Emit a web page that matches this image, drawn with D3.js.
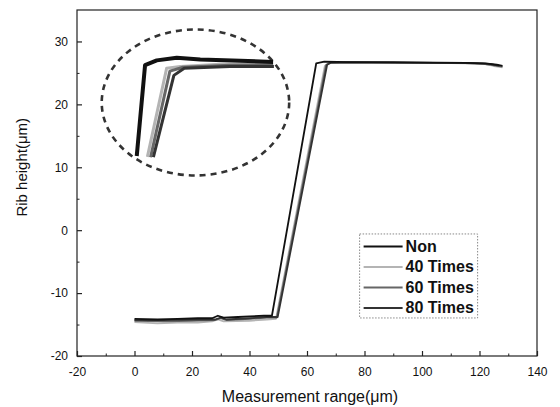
<!DOCTYPE html>
<html>
<head>
<meta charset="utf-8">
<script src="https://cdn.jsdelivr.net/npm/d3@7"></script>
<style>
  body { margin: 0; background: #fff; }
  text { font-family: "Liberation Sans", Arial, sans-serif; fill: #111; }
</style>
</head>
<body>
<div id="chart"></div>
<script>
// series names + colours
var seriesNames = ["Non", "40 Times", "60 Times", "80 Times"];
var seriesColors = ["#111", "#b4b4b4", "#666", "#333"];

// profile data [x (um), height (um)]
var nonData = [[0,-14.1],[8,-14.2],[15,-14.1],[22,-14.0],[27,-14.0],[29,-13.6],[31,-13.9],[36,-13.8],[40,-13.7],[45,-13.6],[47.8,-13.6],[63.2,26.5],[66,26.8],[75,26.7],[90,26.7],[105,26.65],[115,26.6],[122,26.5],[126,26.3],[128,26.1]];
var t40Data = [[0,-14.6],[8,-14.8],[15,-14.7],[22,-14.7],[27,-14.5],[29,-14.2],[31,-14.5],[40,-14.4],[46,-14.2],[49.2,-14.1],[66.2,26.1],[67.5,26.6],[75,26.6],[90,26.55],[105,26.6],[115,26.5],[122,26.4],[125,26.1],[128,25.9]];
var t60Data = [[0,-14.4],[10,-14.5],[20,-14.4],[28,-14.3],[30,-14.0],[32,-14.3],[40,-14.1],[46,-13.9],[49.5,-13.9],[66.6,26.2],[68,26.6],[75,26.65],[90,26.6],[105,26.6],[115,26.55],[122,26.4],[125,26.2],[128,26.0]];
var t80Data = [[0,-14.3],[10,-14.3],[20,-14.2],[28,-14.2],[30,-13.9],[32,-14.2],[40,-14.0],[46,-13.8],[49.8,-13.8],[67.0,26.3],[68.5,26.65],[75,26.7],[90,26.65],[105,26.6],[115,26.6],[121,26.5],[124,26.4],[127,26.1]];

// magnified corner (inset), units of the zoomed view
var nonInset = [[62.46,24.04],[63.5,27.07],[64.96,27.23],[67.46,27.32],[70.4,27.26],[75.4,27.22],[79.5,27.18]];
var t40Inset = [[63.79,24.01],[66.2,26.97],[67.9,27.03],[72.9,27.1],[79.5,27.1]];
var t60Inset = [[64.19,24.0],[66.6,26.87],[68.25,27.0],[74.1,27.07],[79.5,27.08]];
var t80Inset = [[64.54,24.0],[67.1,26.73],[68.4,26.97],[74.1,27.03],[79.6,27.03]];

var xTicks = [-20, 0, 20, 40, 60, 80, 100, 120, 140];
var yTicks = [-20, -10, 0, 10, 20, 30];

var svgWidth = 560, svgHeight = 407;
var margin = { top: 10, right: 23, bottom: 51, left: 77 };
var width = svgWidth - margin.left - margin.right;
var height = svgHeight - margin.top - margin.bottom;

var svg = d3.select("#chart").append("svg")
  .attr("width", svgWidth)
  .attr("height", svgHeight);

var g = svg.append("g")
  .attr("transform", `translate(${margin.left}, ${margin.top})`);

var x = d3.scaleLinear().domain([-20, 140]).range([0, width]);
var y = d3.scaleLinear().domain([-20, 35]).range([height, 0]);

// frame
g.append("rect")
  .attr("width", width).attr("height", height)
  .attr("fill", "none").attr("stroke", "#222").attr("stroke-width", 1.2);

// inward ticks, plain hyphen for negatives
var bottomAxis = d3.axisBottom(x).tickValues(xTicks).tickSize(-5).tickPadding(11).tickFormat(d => String(d));
var leftAxis = d3.axisLeft(y).tickValues(yTicks).tickSize(-5).tickPadding(9).tickFormat(d => String(d));

var xAxis = g.append("g").attr("transform", `translate(0, ${height})`).call(bottomAxis);
var yAxis = g.append("g").call(leftAxis);
[xAxis, yAxis].forEach(function(a) {
  a.select(".domain").remove();
  a.selectAll("line").attr("stroke", "#222").attr("stroke-width", 1.2);
  a.selectAll("text").attr("font-size", 12).attr("fill", "#111");
});

// minor ticks
g.append("g").attr("transform", `translate(0, ${height})`)
  .call(d3.axisBottom(x).tickValues(d3.range(-10, 140, 20)).tickSize(-2.5).tickFormat(""))
  .call(s => s.select(".domain").remove())
  .selectAll("line").attr("stroke", "#222");
g.append("g")
  .call(d3.axisLeft(y).tickValues([-15, -5, 5, 15, 25]).tickSize(-2.5).tickFormat(""))
  .call(s => s.select(".domain").remove())
  .selectAll("line").attr("stroke", "#222");

// axis titles
g.append("text")
  .attr("x", width / 2 + 3).attr("y", height + 46)
  .attr("text-anchor", "middle").attr("font-size", 16)
  .text("Measurement range(\u03bcm)");
g.append("text")
  .attr("transform", "rotate(-90)")
  .attr("x", -y(10)).attr("y", -50)
  .attr("text-anchor", "middle").attr("font-size", 15)
  .text("Rib height(\u03bcm)");

var line = d3.line().x(d => x(d[0])).y(d => y(d[1]));
var allData = [nonData, t40Data, t60Data, t80Data];

// draw light series first, Non on top
[1, 2, 3, 0].forEach(function(i) {
  g.append("path")
    .datum(allData[i])
    .attr("d", line)
    .attr("fill", "none")
    .attr("stroke", seriesColors[i])
    .attr("stroke-width", 1.8)
    .attr("stroke-linejoin", "round");
});

// inset: zoomed view of the top corner, inside a dashed ellipse
g.append("ellipse")
  .attr("cx", x(21.2)).attr("cy", y(20.3))
  .attr("rx", x(32.6) - x(0)).attr("ry", y(0) - y(11.6))
  .attr("fill", "none").attr("stroke", "#333")
  .attr("stroke-width", 2.6).attr("stroke-dasharray", "6,5");

var insetX = d3.scaleLinear().domain([62, 80]).range([x(-0.5), x(49.6)]);
var insetY = d3.scaleLinear().domain([24, 27.4]).range([y(11.6), y(27.8)]);
var insetLine = d3.line().x(d => insetX(d[0])).y(d => insetY(d[1]));
var insetData = [nonInset, t40Inset, t60Inset, t80Inset];

[1, 2, 3, 0].forEach(function(i) {
  g.append("path")
    .datum(insetData[i])
    .attr("d", insetLine)
    .attr("fill", "none")
    .attr("stroke", seriesColors[i])
    .attr("stroke-width", i == 0 ? 4 : 3)
    .attr("stroke-linejoin", "round");
});

// legend
var legend = g.append("g").attr("transform", `translate(${x(78.3)}, ${y(-0.6)})`);
legend.append("rect")
  .attr("width", 118).attr("height", 84)
  .attr("fill", "#fff").attr("stroke", "#888")
  .attr("stroke-width", 1).attr("stroke-dasharray", "1.5,1.5");

seriesNames.forEach(function(name, i) {
  var row = legend.append("g").attr("transform", `translate(0, ${18 + i * 20.5})`);
  row.append("line")
    .attr("x1", 4).attr("x2", 43).attr("y1", -5.5).attr("y2", -5.5)
    .attr("stroke", seriesColors[i]).attr("stroke-width", 2);
  row.append("text")
    .attr("x", 46)
    .attr("font-size", 16).attr("font-weight", "bold")
    .text(name);
});
</script>
</body>
</html>
